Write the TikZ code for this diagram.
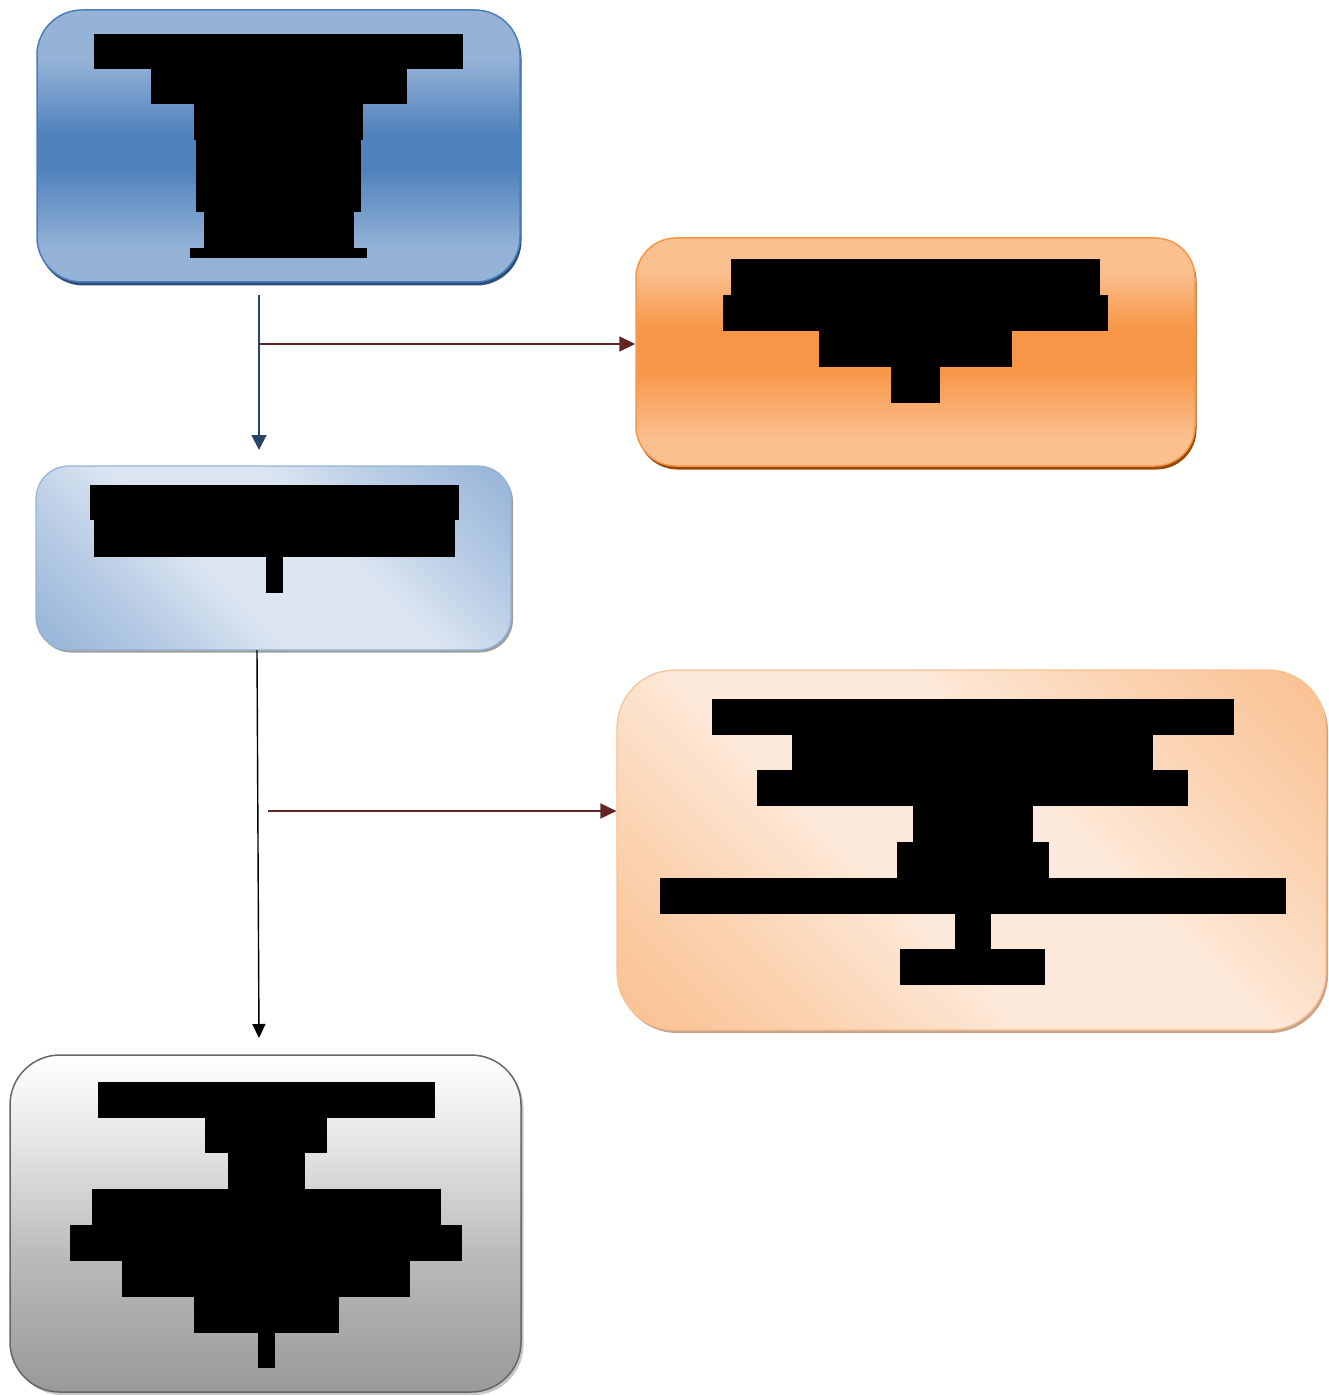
\documentclass[tikz,border=0pt]{standalone}
\usetikzlibrary{arrows.meta,shadows}

% palette
\definecolor{blueLight}{HTML}{95B3D7}
\definecolor{blueDark}{HTML}{4F81BD}
\definecolor{blueEdge}{HTML}{4A7EBB}
\definecolor{blueShadow}{HTML}{2C4D75}
\definecolor{paleBlue}{HTML}{DCE6F2}
\definecolor{paleBlueMid}{HTML}{B9CDE5}
\definecolor{orangeLight}{HTML}{FAC090}
\definecolor{orangeDark}{HTML}{F79646}
\definecolor{orangeShadow}{HTML}{984807}
\definecolor{peach}{HTML}{FDE9D9}
\definecolor{peachMid}{HTML}{FBD5B5}
\definecolor{peachShadow}{HTML}{C9A488}
\definecolor{grayEdge}{HTML}{666666}
\definecolor{arrowNavy}{HTML}{2A4466}
\definecolor{arrowRed}{HTML}{632523}

% shadings (central 25bp..75bp band spans the node)
\pgfdeclareverticalshading{bandblue}{100bp}{color(0bp)=(blueLight); color(25bp)=(blueLight); color(31bp)=(blueLight); color(46bp)=(blueDark); color(52bp)=(blueDark); color(66bp)=(blueLight); color(75bp)=(blueLight); color(100bp)=(blueLight)}
\pgfdeclareverticalshading{bandorange}{100bp}{color(0bp)=(orangeLight); color(25bp)=(orangeLight); color(31bp)=(orangeLight); color(46bp)=(orangeDark); color(55bp)=(orangeDark); color(68bp)=(orangeLight); color(75bp)=(orangeLight); color(100bp)=(orangeLight)}
\pgfdeclareverticalshading{diagblue}{100bp}{color(0bp)=(blueLight); color(15bp)=(blueLight); color(30bp)=(paleBlueMid); color(42bp)=(paleBlue); color(58bp)=(paleBlue); color(70bp)=(paleBlueMid); color(85bp)=(blueLight); color(100bp)=(blueLight)}
\pgfdeclareverticalshading{diagpeach}{100bp}{color(0bp)=(orangeLight); color(15bp)=(orangeLight); color(30bp)=(peachMid); color(42bp)=(peach); color(58bp)=(peach); color(70bp)=(peachMid); color(85bp)=(orangeLight); color(100bp)=(orangeLight)}
\pgfdeclareverticalshading{fadegray}{100bp}{color(0bp)=(black!40); color(25bp)=(black!40); color(45bp)=(black!27); color(62bp)=(black!10); color(72bp)=(black!2); color(75bp)=(white); color(100bp)=(white)}

\tikzset{
  box/.style={rectangle, inner sep=0pt, shade},
  boxA/.style={box, shading=bandblue, draw=blueEdge, line width=1.5pt, rounded corners=45pt,
    drop shadow={shadow xshift=1.5pt, shadow yshift=-3.5pt, fill=blueShadow, opacity=1}},
  boxB/.style={box, shading=bandorange, draw=orangeDark, line width=1.5pt, rounded corners=40pt,
    drop shadow={shadow xshift=1.5pt, shadow yshift=-3.5pt, fill=orangeShadow, opacity=1}},
  boxC/.style={box, shading=diagblue, shading angle=-45, draw=blueLight, line width=1.2pt, rounded corners=33pt,
    drop shadow={shadow xshift=2pt, shadow yshift=-2.5pt, fill=black!38, opacity=1}},
  boxD/.style={box, shading=diagpeach, shading angle=-45, draw=orangeLight, line width=1.2pt, rounded corners=58pt,
    drop shadow={shadow xshift=2pt, shadow yshift=-3pt, fill=peachShadow, opacity=1}},
  boxE/.style={box, shading=fadegray, draw=grayEdge, line width=1.5pt, rounded corners=50pt,
    drop shadow={shadow xshift=2.5pt, shadow yshift=-3pt, fill=black!22, opacity=1}},
  redact/.style={fill=black},
  navyarrow/.style={draw=arrowNavy, line width=1.8pt, -{Triangle[length=15pt,width=15pt]}},
  redarrow/.style={draw=arrowRed, line width=1.8pt, -{Triangle[length=16pt,width=15pt]}},
  blackarrow/.style={draw=black, line width=1.4pt, -{Triangle[length=14pt,width=13pt]}},
}

\begin{document}
\begin{tikzpicture}[x=1pt,y=-1pt]
\useasboundingbox (0,0) rectangle (1328,1396);

% boxes
\node[boxA, minimum width=483pt, minimum height=272pt] (top) at (278.5,146) {};
\node[boxB, minimum width=559pt, minimum height=228pt] (side1) at (915.5,352) {};
\node[boxC, minimum width=475pt, minimum height=184pt] (mid) at (273.5,558) {};
\node[boxD, minimum width=709pt, minimum height=360pt] (side2) at (971.5,850) {};
\node[boxE, minimum width=511pt, minimum height=337pt] (bottom) at (265.5,1223.5) {};

% text lines of the top box
\fill[redact] (94,34) rectangle (463,69);
\fill[redact] (151,69) rectangle (407,104);
\fill[redact] (194,104) rectangle (363,140);
\fill[redact] (196,140) rectangle (361,212);
\fill[redact] (204,212) rectangle (354,248);
\fill[redact] (190,248) rectangle (367,258);

% text lines of the first side box
\fill[redact] (731,259) rectangle (1100,295);
\fill[redact] (723,295) rectangle (1108,331);
\fill[redact] (819,331) rectangle (1012,367);
\fill[redact] (891,367) rectangle (940,403);

% text lines of the middle box
\fill[redact] (90,485) rectangle (459,520);
\fill[redact] (94,520) rectangle (455,557);
\fill[redact] (266,557) rectangle (283,593);

% text lines of the second side box
\fill[redact] (712,699) rectangle (1234,735);
\fill[redact] (792,735) rectangle (1153,770);
\fill[redact] (757,770) rectangle (1188,806);
\fill[redact] (913,806) rectangle (1033,842);
\fill[redact] (897,842) rectangle (1049,878);
\fill[redact] (660,878) rectangle (1286,914);
\fill[redact] (955,914) rectangle (991,949);
\fill[redact] (900,949) rectangle (1045,985);

% text lines of the bottom box
\fill[redact] (98,1082) rectangle (435,1118);
\fill[redact] (205,1118) rectangle (327,1153);
\fill[redact] (228,1153) rectangle (305,1189);
\fill[redact] (92,1189) rectangle (441,1225);
\fill[redact] (70,1225) rectangle (462,1261);
\fill[redact] (122,1261) rectangle (410,1297);
\fill[redact] (194,1297) rectangle (339,1333);
\fill[redact] (258,1333) rectangle (275,1368);

% connectors
\coordinate (topOut) at (259,295);
\coordinate (midIn) at (259,450);
\coordinate (branch1) at (259,344);
\coordinate (midOut) at (257,650);
\coordinate (bottomIn) at (259,1038);
\coordinate (branch2) at (268,811);

\draw[navyarrow] (topOut) -- (midIn);
\draw[redarrow] (branch1) -- (branch1 -| side1.west);
\draw[blackarrow] (midOut) -- (bottomIn);
\draw[redarrow] (branch2) -- (branch2 -| side2.west);
\end{tikzpicture}
\end{document}
